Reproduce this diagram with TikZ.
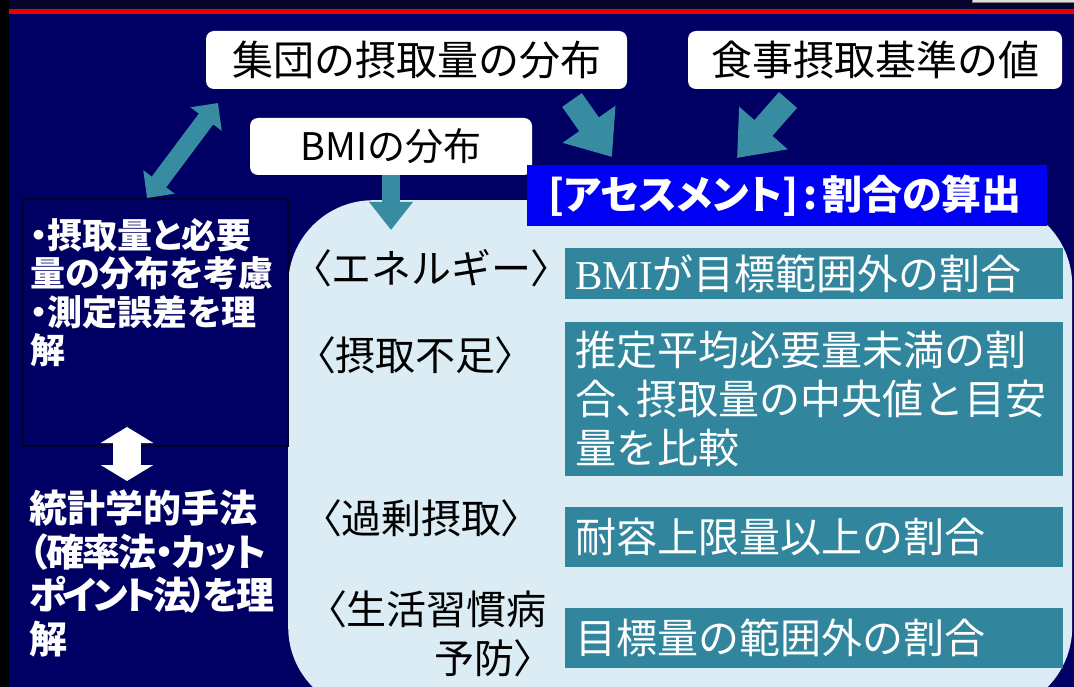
\documentclass[tikz,border=0pt]{standalone}
\usepackage{fontspec}
\setmainfont{Noto Sans CJK JP}
\newfontfamily\jpp{Noto Sans CJK JP}[RawFeature=+palt]
\newfontfamily\serifbmi{Liberation Serif}
\usetikzlibrary{arrows.meta}
\definecolor{navy}{RGB}{0,0,100}
\definecolor{topband}{RGB}{5,5,45}
\definecolor{redline}{RGB}{235,0,0}
\definecolor{lightbox}{RGB}{220,236,244}
\definecolor{tealbox}{RGB}{49,134,157}
\definecolor{tealarrow}{RGB}{55,140,162}
\definecolor{bannerblue}{RGB}{0,0,245}
\definecolor{boxline}{RGB}{0,0,40}
\newcommand{\LB}{{\jpp 〈}}
\newcommand{\RB}{{\jpp 〉}}
\begin{document}
\begin{tikzpicture}[x=1pt,y=-1pt,
  wbox/.style={fill=white, rounded corners=8pt, inner sep=0, text=black,
    font=\fontsize{41}{49}\selectfont},
  wtext/.style={text=white, align=left, inner sep=0},
  tbox/.style={fill=tealbox, text=white, anchor=north west, align=left,
    text width=478pt, inner xsep=10pt, inner ysep=0,
    font=\fontsize{41}{49}\selectfont},
  lbl/.style={text=black, inner sep=0, font=\fontsize{40}{49}\selectfont},
  tarrow/.style={draw=tealarrow, line cap=butt},
]
\useasboundingbox (0,0) rectangle (1074,687);
\clip (0,0) rectangle (1074,687);
% background
\fill[navy] (0,0) rectangle (1074,687);
\fill[topband] (0,0) rectangle (1074,9);
\fill[redline] (5,9) rectangle (1074,14);
\fill[black] (0,0) rectangle (9,687);
\draw[gray, fill=gray!25, line width=1pt] (972,-5) rectangle (1080,3);

% big light panel
\node[fill=lightbox, rounded corners=85pt, minimum width=784pt, minimum height=512pt,
  anchor=north west, inner sep=0] (panel) at (288,200) {};

% left dark box
\node[draw=boxline, line width=2pt, fill=navy, minimum width=265pt, minimum height=247pt,
  anchor=north west, inner sep=0] (leftbox) at (22,198) {};
\node[wtext, anchor=north west, font=\jpp\bfseries\fontsize{35}{38.5}\selectfont] (lt1) at (30,218)
  {・摂取量と必要\\量の分布を考慮\\・測定誤差を理\\解};
\node[wtext, anchor=north west, font=\jpp\bfseries\fontsize{38}{43.5}\selectfont] (lt2) at (29,490)
  {統計学的手法\\{\addfontfeature{LetterSpace=-5}（確率法・カット}\\{\addfontfeature{LetterSpace=-9}ポイント法）を理}\\解};

% white top boxes
\node[wbox, minimum width=421pt, minimum height=58pt] (pop) at (416.5,60) {集団の摂取量の分布};
\node[wbox, minimum width=374pt, minimum height=58pt] (dri) at (875,60) {食事摂取基準の値};
\node[wbox, minimum width=282pt, minimum height=57pt, font=\fontsize{38}{46}\selectfont] (bmi) at (391,146.5) {BMIの分布};

% banner
\node[fill=bannerblue, text=white, anchor=north west, minimum height=61pt,
  text width=478pt, inner xsep=21pt, inner ysep=0, align=left,
  font=\jpp\bfseries\fontsize{40}{40}\selectfont] (assess) at (527,165) {[アセスメント]\hspace{5pt}:\hspace{5pt}割合の算出};

% teal result boxes
\node[tbox, minimum height=51pt, font=\fontsize{41}{49}\selectfont] (r1) at (565,248) {{\serifbmi BMI}が目標範囲外の割合};
\node[tbox, minimum height=154pt] (r2) at (565,322) {推定平均必要量未満の割\\合{\jpp 、}摂取量の中央値と目安\\量を比較};
\node[tbox, minimum height=60pt] (r3) at (565,507) {耐容上限量以上の割合};
\node[tbox, minimum height=60pt] (r4) at (565,608) {目標量の範囲外の割合};

% category labels
\node[lbl, anchor=west] (l1) at (311,268) {\LB エネルギー\RB};
\node[lbl, anchor=west] (l2) at (315,355) {\LB 摂取不足\RB};
\node[lbl, anchor=west] (l3) at (321,518) {\LB 過剰摂取\RB};
\node[lbl, anchor=north east, align=right] (l4) at (547,590) {\LB 生活習慣病\\予防\RB\hspace*{0.3em}};

% arrows
\coordinate (a1) at (147,198);
\coordinate (a2) at (218,103);
\draw[tarrow, line width=18pt, {Triangle[width=38pt,length=20pt]}-{Triangle[width=38pt,length=20pt]}] (a1) -- (a2);
\coordinate (b1) at (572,100);
\coordinate (b2) at (612,157);
\draw[tarrow, line width=24pt, -{Triangle[width=62pt,length=40pt]}] (b1) -- (b2);
\coordinate (c1) at (788,100);
\coordinate (c2) at (737,158);
\draw[tarrow, line width=24pt, -{Triangle[width=62pt,length=40pt]}] (c1) -- (c2);
\coordinate (d2) at (391,230);
\draw[tarrow, line width=18pt, -{Triangle[width=42pt,length=28pt]}] (bmi.south) -- (d2);
\coordinate (w1) at (127,427);
\coordinate (w2) at (127,481);
\draw[draw=white, line width=28pt, line cap=butt, {Triangle[width=52pt,length=16pt]}-{Triangle[width=52pt,length=16pt]}] (w1) -- (w2);
\end{tikzpicture}
\end{document}
